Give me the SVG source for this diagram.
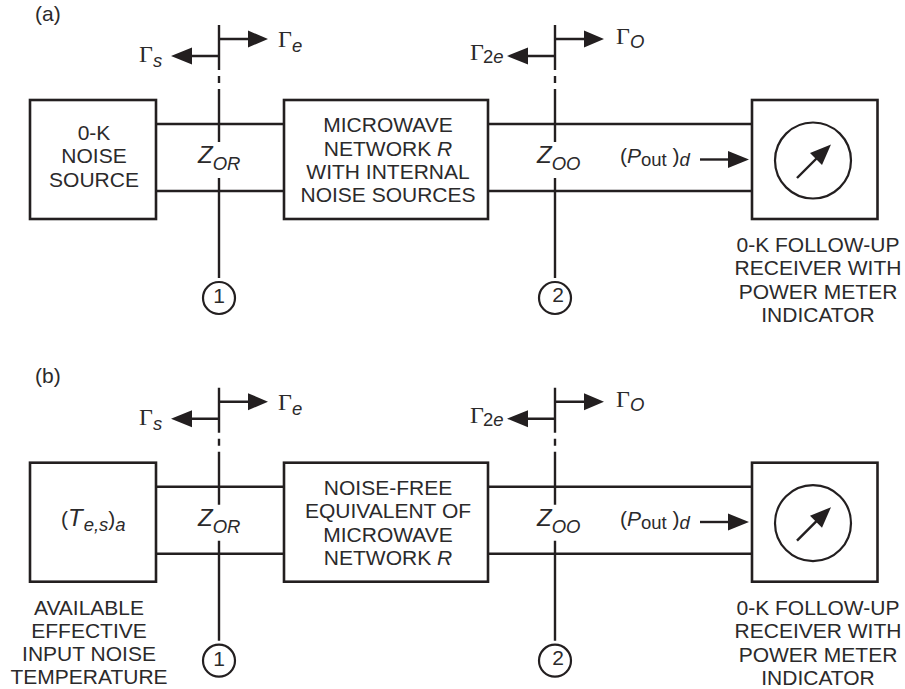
<svg xmlns="http://www.w3.org/2000/svg" width="905" height="689" viewBox="0 0 905 689">
<style>
text{font-family:"Liberation Sans",Arial,sans-serif;font-size:21px;fill:#2b2a2b}
.c{text-anchor:middle}
.i{font-style:italic}
.s{font-size:18.500px}
.z{font-size:24px}
.g{font-family:"Liberation Serif","Times New Roman",serif;font-size:24px}
.b{fill:#fff;stroke:#231f20;stroke-width:2.6}
.l{fill:none;stroke:#231f20;stroke-width:2.4}
.n{fill:#fff;stroke:#231f20;stroke-width:2.2}
.h{fill:#231f20;stroke:none}
</style>
<defs>
<g id="cut">
<path class="l" d="M0 25V70M0 76V83M0 89V142M0 178V278"/>
<path class="l" d="M0 39H30M0 56H-30"/>
<path class="h" d="M49 39L29 30.500V47.500ZM-48 56L-27 47.500V64.500Z"/>
<circle class="n" cx="0" cy="298" r="16"/>
</g>
<g id="meter">
<rect class="b" x="752" y="100" width="125.500" height="119"/>
<circle class="n" cx="813" cy="160.500" r="38"/>
<path class="l" d="M797 178L820 155"/>
<path class="h" d="M831 144.500L810 153L822 165Z"/>
</g>
<g id="feed">
<path class="l" d="M156 124H284M156 191H284M488 124H752M488 191H752"/>
</g>
</defs>
<g id="connectors">
<use href="#feed"/>
<use href="#feed" y="362.700"/>
</g>
<g id="panel-a">
<text x="35" y="21">(a)</text>
<g id="a-source"><rect class="b" x="30" y="100" width="126" height="119"/>
<text class="c" x="94" y="140">0-K</text><text class="c" x="94" y="163">NOISE</text><text class="c" x="94" y="187">SOURCE</text></g>
<g id="a-network"><rect class="b" x="284" y="100" width="204" height="119"/>
<text class="c" x="388" y="132">MICROWAVE</text><text class="c" x="388" y="155.500">NETWORK <tspan class="i">R</tspan></text><text class="c" x="388" y="179">WITH INTERNAL</text><text class="c" x="388" y="202">NOISE SOURCES</text></g>
<g id="a-plane1"><use href="#cut" x="219"/><text class="c" x="219" y="303">1</text>
<text class="g" x="139" y="62">Γ</text><text class="i s" x="153" y="67">s</text><text class="g" x="278" y="47">Γ</text><text class="i s" x="292" y="52">e</text>
<text class="i z" x="198" y="163">Z<tspan class="s" dy="7">OR</tspan></text></g>
<g id="a-plane2"><use href="#cut" x="555"/><text class="c" x="558" y="302">2</text>
<text class="g" x="470" y="60">Γ</text><text class="s" x="483" y="63">2<tspan class="i">e</tspan></text><text class="g" x="616" y="44">Γ</text><text class="i s" x="630" y="48">O</text>
<text class="i z" x="537" y="163">Z<tspan class="s" dy="7">OO</tspan></text></g>
<g id="a-power"><text x="620" y="163">(<tspan class="i">P</tspan><tspan class="s" dy="3">out</tspan><tspan dy="-3"> )</tspan><tspan class="i s" dy="3">d</tspan></text>
<path class="l" d="M700 159.500H730"/><path class="h" d="M749 159.500L728 151V168Z"/></g>
<g id="a-receiver"><use href="#meter"/>
<text class="c" x="818" y="252">0-K FOLLOW-UP</text><text class="c" x="818" y="275">RECEIVER WITH</text><text class="c" x="818" y="299">POWER METER</text><text class="c" x="818" y="322">INDICATOR</text></g>
</g>
<g id="panel-b">
<text x="35" y="383">(b)</text>
<g id="b-source"><rect class="b" x="30" y="462.700" width="126" height="119"/>
<text x="61" y="526">(<tspan class="i z">T</tspan><tspan class="i s" dy="5" dx="1">e,s</tspan><tspan dy="-5">)</tspan><tspan class="i s" dy="5">a</tspan></text>
<text class="c" x="89" y="615">AVAILABLE</text><text class="c" x="89" y="637.500">EFFECTIVE</text><text class="c" x="89" y="661">INPUT NOISE</text><text class="c" x="89" y="684">TEMPERATURE</text></g>
<g id="b-network"><rect class="b" x="284" y="462.700" width="204" height="119"/>
<text class="c" x="388" y="495">NOISE-FREE</text><text class="c" x="388" y="518">EQUIVALENT OF</text><text class="c" x="388" y="541.500">MICROWAVE</text><text class="c" x="388" y="565">NETWORK <tspan class="i">R</tspan></text></g>
<g id="b-plane1"><use href="#cut" x="219" y="362.700"/><text class="c" x="219" y="666">1</text>
<text class="g" x="139" y="425">Γ</text><text class="i s" x="153" y="430">s</text><text class="g" x="278" y="410">Γ</text><text class="i s" x="292" y="415">e</text>
<text class="i z" x="198" y="526">Z<tspan class="s" dy="7">OR</tspan></text></g>
<g id="b-plane2"><use href="#cut" x="555" y="362.700"/><text class="c" x="558" y="665">2</text>
<text class="g" x="470" y="423">Γ</text><text class="s" x="483" y="426">2<tspan class="i">e</tspan></text><text class="g" x="616" y="407">Γ</text><text class="i s" x="630" y="411">O</text>
<text class="i z" x="537" y="526">Z<tspan class="s" dy="7">OO</tspan></text></g>
<g id="b-power"><text x="620" y="526">(<tspan class="i">P</tspan><tspan class="s" dy="3">out</tspan><tspan dy="-3"> )</tspan><tspan class="i s" dy="3">d</tspan></text>
<path class="l" d="M700 522H730"/><path class="h" d="M749 522L728 513.500V530.500Z"/></g>
<g id="b-receiver"><use href="#meter" y="362.700"/>
<text class="c" x="818" y="615">0-K FOLLOW-UP</text><text class="c" x="818" y="638">RECEIVER WITH</text><text class="c" x="818" y="662">POWER METER</text><text class="c" x="818" y="685">INDICATOR</text></g>
</g>
</svg>
